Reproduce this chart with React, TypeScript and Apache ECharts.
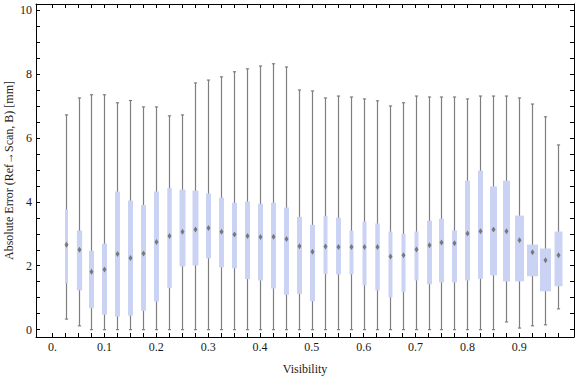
import React, { useEffect, useRef } from "react";
import * as echarts from "echarts";

// Visibility bins (box positions)
const visibility = [
  0.025, 0.05, 0.075, 0.1, 0.125, 0.15, 0.175, 0.2, 0.225, 0.25,
  0.275, 0.3, 0.325, 0.35, 0.375, 0.4, 0.425, 0.45, 0.475, 0.5,
  0.525, 0.55, 0.575, 0.6, 0.625, 0.65, 0.675, 0.7, 0.725, 0.75,
  0.775, 0.8, 0.825, 0.85, 0.875, 0.9, 0.925, 0.95, 0.975,
];

const whiskerHigh = [
  6.72, 7.25, 7.35, 7.35, 7.1, 7.17, 6.97, 6.97, 6.69, 6.72,
  7.72, 7.81, 7.91, 8.07, 8.16, 8.25, 8.32, 8.22, 7.5, 7.47,
  7.25, 7.31, 7.28, 7.22, 7.16, 7.0, 7.1, 7.31, 7.28, 7.28,
  7.28, 7.22, 7.31, 7.31, 7.31, 7.25, 7.06, 6.66, 5.78,
];
const q3 = [
  3.76, 3.1, 2.47, 2.69, 4.32, 4.04, 3.9, 4.32, 4.43, 4.38,
  4.35, 4.26, 4.13, 3.97, 4.01, 3.94, 3.97, 3.82, 3.53, 3.28,
  3.56, 3.5, 3.1, 3.38, 3.32, 3.07, 3.0, 3.07, 3.41, 3.47,
  3.1, 4.66, 4.98, 4.48, 4.66, 3.57, 2.66, 2.54, 3.07,
];
const median = [
  2.66, 2.5, 1.81, 1.88, 2.37, 2.24, 2.38, 2.74, 2.93, 3.06,
  3.13, 3.18, 3.06, 2.98, 2.93, 2.9, 2.91, 2.84, 2.61, 2.44,
  2.6, 2.59, 2.59, 2.59, 2.59, 2.29, 2.33, 2.51, 2.64, 2.73,
  2.7, 3.01, 3.08, 3.13, 3.08, 2.8, 2.42, 2.17, 2.33,
];
const q1 = [
  1.45, 1.23, 0.67, 0.47, 0.41, 0.44, 0.59, 0.88, 1.3, 1.98,
  2.01, 2.23, 1.95, 1.92, 1.58, 1.54, 1.29, 1.09, 1.12, 0.89,
  1.74, 1.73, 1.73, 1.39, 1.23, 1.01, 1.17, 1.54, 1.42, 1.48,
  1.48, 1.54, 1.59, 1.7, 1.51, 1.51, 1.67, 1.2, 1.36,
];
const whiskerLow = [
  0.33, 0.12, 0, 0, 0, 0, 0, 0, 0, 0,
  0, 0, 0, 0, 0, 0, 0, 0, 0, 0,
  0, 0, 0, 0, 0, 0, 0, 0, 0, 0,
  0, 0, 0, 0, 0.24, 0.05, 0.12, 0.15, 0.65,
];
// relative sample share per bin (drives box width)
const sampleShare = [
  0.6, 1.05, 1, 1, 1, 1, 1, 1, 0.9, 1.2,
  1.2, 1, 1, 1, 1, 1, 1, 1, 1, 1,
  0.8, 1, 0.8, 0.8, 0.9, 0.8, 0.8, 0.8, 1, 1,
  1, 1, 1, 1.4, 1.4, 1.8, 2.2, 2.2, 1.6,
];

const xLabelValues = [0, 0.1, 0.2, 0.3, 0.4, 0.5, 0.6, 0.7, 0.8, 0.9];
const xLabelTexts = ["0.", "0.1", "0.2", "0.3", "0.4", "0.5", "0.6", "0.7", "0.8", "0.9"];
const xTickValues = [0, ...visibility];
const yTickValues = [
  0, 0.5, 1, 1.5, 2, 2.5, 3, 3.5, 4, 4.5, 5, 5.5, 6, 6.5, 7, 7.5, 8, 8.5, 9, 9.5, 10,
];
const yLabelValues = [0, 2, 4, 6, 8, 10];

const FONT = "'Liberation Serif', 'Times New Roman', serif";
const TEXT_COLOR = "#1a1a1a";
const BOX_UNIT = 5;

export default function App() {
  const ref = useRef<HTMLDivElement>(null);

  useEffect(() => {
    if (!ref.current) return;
    const chart = echarts.init(ref.current, undefined, { renderer: "svg" });

    const data = visibility.map((v, i) => [
      v, whiskerLow[i], q1[i], median[i], q3[i], whiskerHigh[i], sampleShare[i],
    ]);

    const xMin = -0.032;
    const xMax = 1.0056;
    const yMin = -0.23;
    const yMax = 10.19;

    const axisLine = { show: true, onZero: false, lineStyle: { color: "#000", width: 1 } };
    const tickStyle = { color: "#000", width: 1 };

    chart.setOption({
      animation: false,
      backgroundColor: "#fff",
      grid: {
        left: 36,
        top: 4,
        width: 538,
        height: 333,
        containLabel: false,
        outerBoundsMode: "none",
      },
      xAxis: [
        {
          type: "value",
          position: "bottom",
          min: xMin,
          max: xMax,
          axisLine,
          splitLine: { show: false },
          axisTick: { show: true, inside: true, length: 4, customValues: xTickValues, lineStyle: tickStyle },
          axisLabel: {
            show: true,
            customValues: xLabelValues,
            margin: 4,
            color: TEXT_COLOR,
            fontFamily: FONT,
            fontSize: 12,
            formatter: (val: number) => {
              let best = 0;
              for (let i = 0; i < xLabelValues.length; i++) {
                if (Math.abs(xLabelValues[i] - val) < Math.abs(xLabelValues[best] - val)) best = i;
              }
              return xLabelTexts[best];
            },
          },
          name: "Visibility",
          nameLocation: "middle",
          nameGap: 26,
          nameMoveOverlap: false,
          nameTextStyle: { color: TEXT_COLOR, fontFamily: FONT, fontSize: 12 },
        },
        {
          type: "value",
          position: "top",
          min: xMin,
          max: xMax,
          axisLine,
          splitLine: { show: false },
          axisTick: { show: true, inside: true, length: 4, customValues: xTickValues, lineStyle: tickStyle },
          axisLabel: { show: false },
        },
      ],
      yAxis: [
        {
          type: "value",
          position: "left",
          min: yMin,
          max: yMax,
          axisLine,
          splitLine: { show: false },
          axisTick: { show: true, inside: true, length: 4, customValues: yTickValues, lineStyle: tickStyle },
          axisLabel: {
            show: true,
            customValues: yLabelValues,
            margin: 4,
            color: TEXT_COLOR,
            fontFamily: FONT,
            fontSize: 12,
          },
          name: "Absolute Error (Ref\u2192Scan, B) [mm]",
          nameLocation: "middle",
          nameGap: 21,
          nameMoveOverlap: false,
          nameTextStyle: { color: TEXT_COLOR, fontFamily: FONT, fontSize: 12 },
        },
        {
          type: "value",
          position: "right",
          min: yMin,
          max: yMax,
          axisLine,
          splitLine: { show: false },
          axisTick: { show: true, inside: true, length: 4, customValues: yTickValues, lineStyle: tickStyle },
          axisLabel: { show: false },
        },
      ],
      series: [
        {
          type: "custom",
          coordinateSystem: "cartesian2d",
          xAxisIndex: 0,
          yAxisIndex: 0,
          encode: { x: 0, y: [1, 2, 3, 4, 5] },
          data,
          renderItem: (params: any, api: any) => {
            const x = api.value(0);
            const lo = api.coord([x, api.value(1)]);
            const b1 = api.coord([x, api.value(2)]);
            const md = api.coord([x, api.value(3)]);
            const b3 = api.coord([x, api.value(4)]);
            const hi = api.coord([x, api.value(5)]);
            const w = api.value(6) * BOX_UNIT;
            const cx = Math.round(lo[0]) + 0.5;
            const whisk = { stroke: "#7f7f7f", lineWidth: 1.2 };
            return {
              type: "group",
              children: [
                { type: "line", shape: { x1: cx, y1: hi[1], x2: cx, y2: lo[1] }, style: whisk },
                { type: "line", shape: { x1: cx - 1.6, y1: hi[1], x2: cx + 1.6, y2: hi[1] }, style: whisk },
                { type: "line", shape: { x1: cx - 1.6, y1: lo[1], x2: cx + 1.6, y2: lo[1] }, style: whisk },
                {
                  type: "rect",
                  shape: { x: cx - w / 2, y: b3[1], width: w, height: b1[1] - b3[1] },
                  style: { fill: "#cbd3f5" },
                },
                {
                  type: "polygon",
                  shape: {
                    points: [
                      [cx, md[1] - 3],
                      [cx + 2, md[1]],
                      [cx, md[1] + 3],
                      [cx - 2, md[1]],
                    ],
                  },
                  style: { fill: "#6f6f6f", opacity: 0.9 },
                },
              ],
            };
          },
        },
      ],
    });

    return () => chart.dispose();
  }, []);

  return (
    <div
      ref={ref}
      style={{ position: "fixed", left: 0, top: 0, width: 576, height: 377 }}
    />
  );
}
